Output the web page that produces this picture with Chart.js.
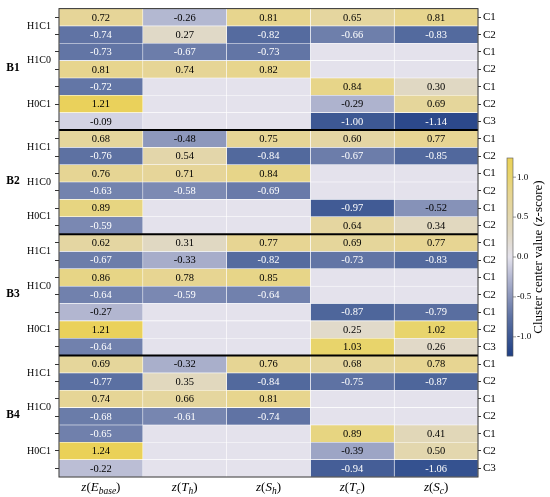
<!DOCTYPE html>
<html>
<head>
<meta charset="utf-8">
<script src="https://cdn.jsdelivr.net/npm/chart.js@4.4.1/dist/chart.umd.min.js"></script>
<style>
html, body { margin: 0; padding: 0; background: #fff; }
</style>
</head>
<body>
<canvas id="chart" width="550" height="497"></canvas>
<script>
// column variables: [symbol, subscript]
const columns = [['E', 'base'], ['T', 'h'], ['S', 'h'], ['T', 'c'], ['S', 'c']];

// right hand cluster labels, one per row
const clusterLabels = [
    'C1','C2','C1','C2','C1','C2','C3',
    'C1','C2','C1','C2','C1','C2',
    'C1','C2','C1','C2','C1','C2','C3',
    'C1','C2','C1','C2','C1','C2','C3'
];

// H groups (left labels) and how many rows each spans
const groupNames = ['H1C1','H1C0','H0C1','H1C1','H1C0','H0C1','H1C1','H1C0','H0C1','H1C1','H1C0','H0C1'];
const groupSizes = [2, 2, 3, 2, 2, 2, 2, 2, 3, 2, 2, 3];

// blocks (3 groups each)
const blockLabels = ['B1', 'B2', 'B3', 'B4'];

// cluster centre values per column (null = not used)
const zEbase = [0.72,-0.74,-0.73,0.81,-0.72,1.21,-0.09, 0.68,-0.76,0.76,-0.63,0.89,-0.59,
                0.62,-0.67,0.86,-0.64,-0.27,1.21,-0.64, 0.69,-0.77,0.74,-0.68,-0.65,1.24,-0.22];
const zTh = [-0.26,0.27,-0.67,0.74,null,null,null, -0.48,0.54,0.71,-0.58,null,null,
             0.31,-0.33,0.78,-0.59,null,null,null, -0.32,0.35,0.66,-0.61,null,null,null];
const zSh = [0.81,-0.82,-0.73,0.82,null,null,null, 0.75,-0.84,0.84,-0.69,null,null,
             0.77,-0.82,0.85,-0.64,null,null,null, 0.76,-0.84,0.81,-0.74,null,null,null];
const zTc = [0.65,-0.66,null,null,0.84,-0.29,-1.00, 0.60,-0.67,null,null,-0.97,0.64,
             0.69,-0.73,null,null,-0.87,0.25,1.03, 0.68,-0.75,null,null,0.89,-0.39,-0.94];
const zSc = [0.81,-0.83,null,null,0.30,0.69,-1.14, 0.77,-0.85,null,null,-0.52,0.34,
             0.77,-0.83,null,null,-0.79,1.02,0.26, 0.78,-0.87,null,null,0.41,0.50,-1.06];
const values = [zEbase, zTh, zSh, zTc, zSc];

// colour bar
const cbarTicks = [-1.0, -0.5, 0.0, 0.5, 1.0];
const vmin = -1.24, vmax = 1.24;

const FONT = "'Liberation Serif', 'Times New Roman', serif";

// blue - white - yellow colormap
const stops = [
    [-1.24, [31, 63, 133]],
    [-1.0, [61, 88, 147]],
    [-0.75, [94, 114, 163]],
    [-0.5, [138, 149, 186]],
    [-0.25, [181, 185, 210]],
    [0.0, [228, 226, 236]],
    [0.3, [224, 216, 195]],
    [0.6, [228, 214, 164]],
    [0.8, [231, 213, 144]],
    [1.0, [232, 212, 110]],
    [1.24, [234, 209, 88]]
];
function colorFor(v) {
    if (v === null || v === undefined) v = 0;
    v = Math.max(vmin, Math.min(vmax, v));
    for (let i = 0; i < stops.length - 1; i++) {
        const a = stops[i], b = stops[i + 1];
        if (v <= b[0]) {
            const t = (v - a[0]) / (b[0] - a[0]);
            const c = a[1].map((x, k) => Math.round(x + (b[1][k] - x) * t));
            return 'rgb(' + c.join(',') + ')';
        }
    }
    return 'rgb(' + stops[stops.length - 1][1].join(',') + ')';
}

const heatmapDecor = {
    id: 'heatmapDecor',
    afterDatasetsDraw(chart) {
        const ctx = chart.ctx;
        const area = chart.chartArea;
        const yScale = chart.scales.y;
        const xScale = chart.scales.x;
        ctx.save();

        // cell values
        ctx.font = '10.5px ' + FONT;
        ctx.textAlign = 'center';
        ctx.textBaseline = 'middle';
        values.forEach((col, j) => {
            const meta = chart.getDatasetMeta(j);
            meta.data.forEach((el, i) => {
                const v = col[i];
                if (v === null) return;
                ctx.fillStyle = v < -0.55 ? '#ffffff' : '#000000';
                ctx.fillText(v.toFixed(2), (el.x + el.base) / 2, el.y + 0.5);
            });
        });

        // group + block labels, block separators
        const rowMid = (a, b) => (yScale.getPixelForValue(a) + yScale.getPixelForValue(b)) / 2;
        let row = 0;
        const blockStarts = [];
        groupNames.forEach((g, k) => {
            if (k % 3 === 0) blockStarts.push(row);
            const n = groupSizes[k];
            const y = rowMid(row, row + n - 1);
            ctx.font = '10px ' + FONT;
            ctx.fillStyle = '#000';
            ctx.textAlign = 'right';
            ctx.fillText(g, area.left - 8, y);
            row += n;
        });
        blockStarts.push(row);
        blockLabels.forEach((b, k) => {
            const y = rowMid(blockStarts[k], blockStarts[k + 1] - 1);
            ctx.font = 'bold 11.5px ' + FONT;
            ctx.textAlign = 'center';
            ctx.fillText(b, 13, y - 1);
        });
        ctx.strokeStyle = '#000';
        ctx.lineWidth = 2;
        for (let k = 1; k < blockLabels.length; k++) {
            const y = rowMid(blockStarts[k] - 1, blockStarts[k]);
            ctx.beginPath();
            ctx.moveTo(area.left, y);
            ctx.lineTo(area.right, y);
            ctx.stroke();
        }
        ctx.strokeStyle = '#333';
        ctx.lineWidth = 1;
        ctx.strokeRect(area.left, area.top, area.right - area.left, area.bottom - area.top);

        // column labels like z(E_base)
        const ty = area.bottom + 11;
        columns.forEach((c, j) => {
            const cx = xScale.getPixelForValue(j + 0.5);
            const parts = [
                ['z', 'italic 13px ' + FONT, 0],
                ['(', '13px ' + FONT, 0],
                [c[0], 'italic 13px ' + FONT, 0],
                [c[1], 'italic 9.5px ' + FONT, 3],
                [')', '13px ' + FONT, 0]
            ];
            let total = 0;
            parts.forEach(p => { ctx.font = p[1]; total += ctx.measureText(p[0]).width; });
            let x = cx - total / 2;
            ctx.textAlign = 'left';
            ctx.fillStyle = '#000';
            parts.forEach(p => {
                ctx.font = p[1];
                ctx.fillText(p[0], x, ty + p[2]);
                x += ctx.measureText(p[0]).width;
            });
        });

        // colour bar
        const cbX = 507, cbW = 6, cbTop = 158, cbBot = 356;
        const toY = v => cbTop + (vmax - v) / (vmax - vmin) * (cbBot - cbTop);
        for (let y = cbTop; y < cbBot; y++) {
            const v = vmax - (y + 0.5 - cbTop) / (cbBot - cbTop) * (vmax - vmin);
            ctx.fillStyle = colorFor(v);
            ctx.fillRect(cbX, y, cbW, 1.2);
        }
        ctx.strokeStyle = '#555';
        ctx.lineWidth = 0.6;
        ctx.strokeRect(cbX, cbTop, cbW, cbBot - cbTop);
        ctx.font = '9px ' + FONT;
        ctx.textAlign = 'left';
        ctx.fillStyle = '#000';
        cbarTicks.forEach(t => {
            const y = toY(t);
            ctx.beginPath();
            ctx.moveTo(cbX + cbW, y);
            ctx.lineTo(cbX + cbW + 3, y);
            ctx.stroke();
            ctx.fillText(t.toFixed(1), cbX + cbW + 4, y);
        });
        ctx.translate(539, (cbTop + cbBot) / 2);
        ctx.rotate(-Math.PI / 2);
        ctx.textAlign = 'center';
        ctx.font = '13px ' + FONT;
        ctx.fillText('Cluster center value (z-score)', 0, 0);

        ctx.restore();
    }
};

const ctx = document.getElementById('chart').getContext('2d');
const chart = new Chart(ctx, {
    type: 'bar',
    data: {
        labels: clusterLabels,
        datasets: values.map((col, j) => ({
            label: columns[j].join('_'),
            data: col.map(() => 1),
            backgroundColor: c => colorFor(col[c.dataIndex]),
            borderColor: 'rgba(255,255,255,0.85)',
            borderWidth: 0.6,
            borderSkipped: false,
            barPercentage: 1,
            categoryPercentage: 1
        }))
    },
    options: {
        indexAxis: 'y',
        responsive: false,
        animation: false,
        layout: { padding: { top: 7, bottom: 20, left: 0, right: 0 } },
        plugins: { legend: { display: false }, tooltip: { enabled: false } },
        scales: {
            x: { type: 'linear', stacked: true, min: 0, max: 5, display: false },
            y: {
                type: 'category',
                stacked: true,
                position: 'right',
                offset: true,
                border: { display: false },
                grid: { drawOnChartArea: false, offset: false, tickLength: 3, color: '#333' },
                ticks: { autoSkip: false, color: '#000', padding: 2, font: { family: FONT, size: 11 } },
                afterFit: s => { s.width = 72; }
            },
            yl: {
                type: 'category',
                position: 'left',
                offset: true,
                border: { display: false },
                grid: { drawOnChartArea: false, offset: false, tickLength: 4, color: '#333' },
                ticks: { autoSkip: false, padding: 0, callback: () => '' },
                afterFit: s => { s.width = 59; }
            }
        }
    },
    plugins: [heatmapDecor]
});
</script>
</body>
</html>
